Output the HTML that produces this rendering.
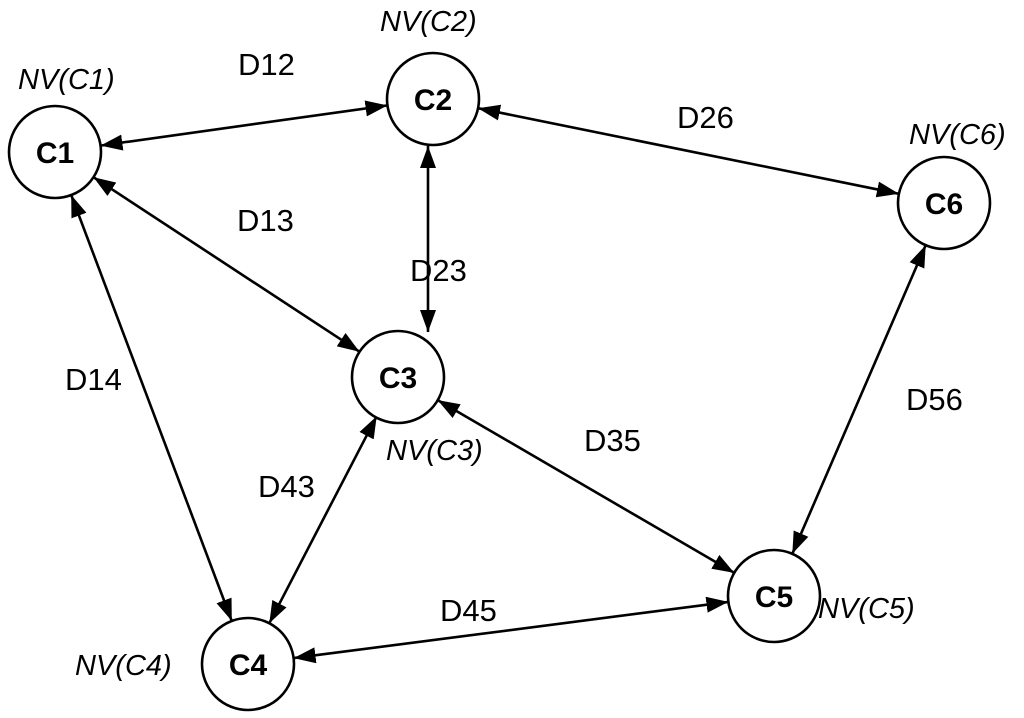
<!DOCTYPE html>
<html><head><meta charset="utf-8"><style>
html,body{margin:0;padding:0;background:#fff;width:1024px;height:718px;overflow:hidden}
text{font-family:"Liberation Sans",sans-serif;fill:#000}
.d{font-size:31px}
.c{font-size:30px;font-weight:bold}
.nv{font-size:29px;font-style:italic}
</style></head><body>
<svg width="1024" height="718" viewBox="0 0 1024 718" xmlns="http://www.w3.org/2000/svg">
<defs>
<marker id="a" viewBox="0 0 22 16" refX="22" refY="8" markerWidth="22" markerHeight="16" markerUnits="userSpaceOnUse" orient="auto-start-reverse">
<path d="M0,0 L22,8 L0,16 Z" fill="#000"/>
</marker>
</defs>
<g stroke="#000" stroke-width="2.6" fill="none" marker-start="url(#a)" marker-end="url(#a)">
<line x1="100.5" y1="145.6" x2="387.5" y2="105.4"/>
<line x1="93.5" y1="177.2" x2="359.5" y2="351.7"/>
<line x1="71.2" y1="195" x2="231.8" y2="621"/>
<line x1="428" y1="146" x2="428" y2="332"/>
<line x1="478" y1="108.2" x2="898.9" y2="193.8"/>
<line x1="437.7" y1="400.1" x2="734.3" y2="572.9"/>
<line x1="269.3" y1="623.2" x2="376.7" y2="416.2"/>
<line x1="293.6" y1="658.1" x2="728.4" y2="601.9"/>
<line x1="792.3" y1="553.8" x2="925.7" y2="245.2"/>
</g>
<g stroke="#000" stroke-width="2.6" fill="#fff">
<circle cx="55" cy="152" r="46"/>
<circle cx="433" cy="99" r="46"/>
<circle cx="398" cy="377" r="46"/>
<circle cx="248" cy="664" r="46"/>
<circle cx="774" cy="596" r="46"/>
<circle cx="944" cy="203" r="46"/>
</g>
<g class="c" text-anchor="middle">
<text class="c" x="55" y="163">C1</text>
<text class="c" x="433" y="110">C2</text>
<text class="c" x="398" y="388">C3</text>
<text class="c" x="248" y="675">C4</text>
<text class="c" x="774" y="607">C5</text>
<text class="c" x="944" y="214">C6</text>
</g>
<text class="d" x="238" y="75">D12</text>
<text class="d" x="237" y="231">D13</text>
<text class="d" x="410" y="281">D23</text>
<text class="d" x="677" y="128">D26</text>
<text class="d" x="65" y="390">D14</text>
<text class="d" x="584" y="451">D35</text>
<text class="d" x="258" y="497">D43</text>
<text class="d" x="440" y="621">D45</text>
<text class="d" x="906" y="410">D56</text>
<text class="nv" x="18" y="89">NV(C1)</text>
<text class="nv" x="380" y="31">NV(C2)</text>
<text class="nv" x="909" y="144">NV(C6)</text>
<text class="nv" x="386" y="460">NV(C3)</text>
<text class="nv" x="75" y="675">NV(C4)</text>
<text class="nv" x="818" y="618">NV(C5)</text>
</svg>
</body></html>
